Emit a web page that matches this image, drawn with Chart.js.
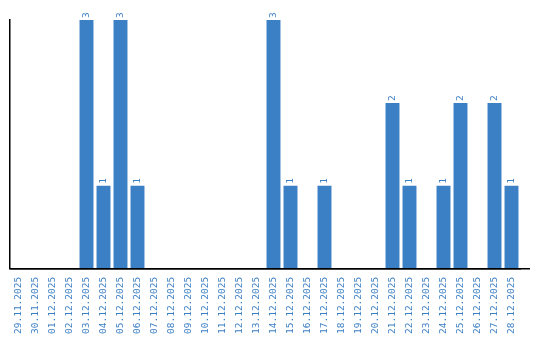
<!DOCTYPE html>
<html>
<head>
<meta charset="utf-8">
<script src="https://cdn.jsdelivr.net/npm/chart.js@4/dist/chart.umd.min.js"></script>
<style>
  html, body { margin: 0; padding: 0; background: #fff; }
  #wrap { width: 540px; height: 340px; }
</style>
</head>
<body>
<div id="wrap"><canvas id="chart"></canvas></div>
<script>
const days = [
  '29.11.2025','30.11.2025','01.12.2025','02.12.2025','03.12.2025','04.12.2025',
  '05.12.2025','06.12.2025','07.12.2025','08.12.2025','09.12.2025','10.12.2025',
  '11.12.2025','12.12.2025','13.12.2025','14.12.2025','15.12.2025','16.12.2025',
  '17.12.2025','18.12.2025','19.12.2025','20.12.2025','21.12.2025','22.12.2025',
  '23.12.2025','24.12.2025','25.12.2025','26.12.2025','27.12.2025','28.12.2025'
];
const counts = [0,0,0,0,3,1,3,1,0,0,0,0,0,0,0,3,1,0,1,0,0,0,2,1,0,1,2,0,2,1];

const blue = '#3b7fc4';
const monoFamily = '"DejaVu Sans Mono", monospace';
const monoSize = 9.5;

// labels over the bars, turned like the axis labels
const valueLabels = {
  id: 'valueLabels',
  afterDatasetsDraw(chart) {
    const ctx = chart.ctx;
    const meta = chart.getDatasetMeta(0);
    ctx.save();
    ctx.font = monoSize + 'px ' + monoFamily;
    ctx.fillStyle = blue;
    ctx.textAlign = 'left';
    ctx.textBaseline = 'middle';
    meta.data.forEach((bar, i) => {
      if (!counts[i]) return;
      ctx.save();
      ctx.translate(bar.x, bar.y - 2);
      ctx.rotate(-Math.PI / 2);
      ctx.fillText(String(counts[i]), 0, 0);
      ctx.restore();
    });
    ctx.restore();
  }
};

// the bottom axis line runs a little past the last category
const axisTail = {
  id: 'axisTail',
  afterDraw(chart) {
    const a = chart.chartArea;
    const ctx = chart.ctx;
    ctx.save();
    ctx.strokeStyle = '#000';
    ctx.lineWidth = 1.5;
    ctx.beginPath();
    ctx.moveTo(a.left, a.bottom);
    ctx.lineTo(a.right + 10, a.bottom);
    ctx.stroke();
    ctx.restore();
  }
};

new Chart(document.getElementById('chart'), {
  type: 'bar',
  data: {
    labels: days,
    datasets: [{
      data: counts,
      backgroundColor: blue,
      barPercentage: 0.82,
      categoryPercentage: 1.0
    }]
  },
  options: {
    responsive: true,
    maintainAspectRatio: false,
    animation: false,
    layout: { padding: { top: 20, left: 10, right: 20, bottom: -2 } },
    plugins: { legend: { display: false }, tooltip: { enabled: false } },
    scales: {
      x: {
        grid: { display: false, drawTicks: false },
        border: { color: '#000', width: 1.5 },
        ticks: {
          color: blue,
          font: { family: monoFamily, size: monoSize },
          minRotation: 90,
          maxRotation: 90,
          autoSkip: false,
          padding: 8
        }
      },
      y: {
        min: 0,
        max: 3,
        grid: { display: false, drawTicks: false },
        border: { color: '#000', width: 1.5 },
        ticks: { display: false }
      }
    }
  },
  plugins: [valueLabels, axisTail]
});
</script>
</body>
</html>
